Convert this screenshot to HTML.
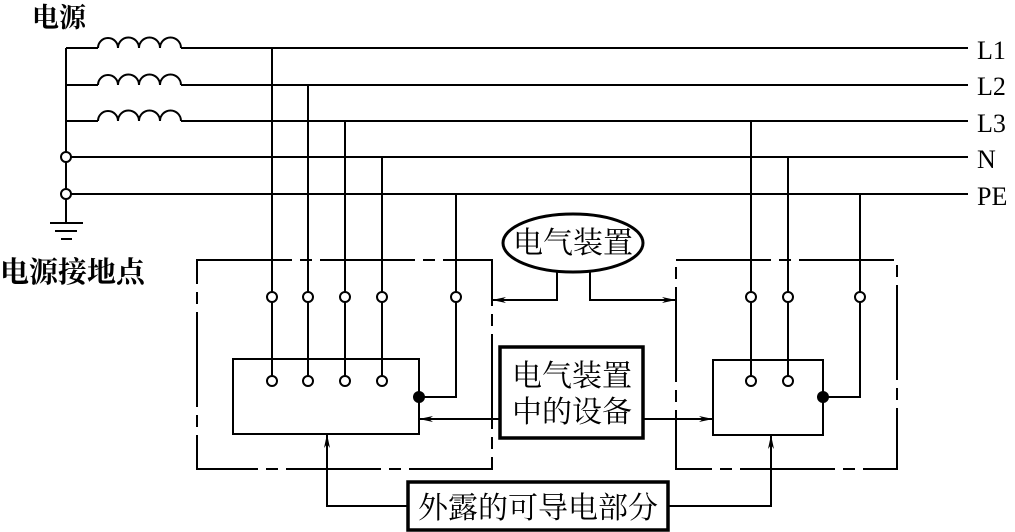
<!DOCTYPE html>
<html><head><meta charset="utf-8"><style>
html,body{margin:0;padding:0;background:#fff;}
svg{display:block;}
text{font-family:"Liberation Serif","Noto Serif CJK SC","Noto Sans CJK SC",serif;fill:#000;}
</style></head><body>
<svg width="1015" height="532" viewBox="0 0 1015 532" xmlns="http://www.w3.org/2000/svg">
<defs>
<marker id="ar" markerWidth="14" markerHeight="8" refX="13" refY="4" orient="auto" markerUnits="userSpaceOnUse">
<path d="M0,1 L14,4 L0,7 L4,4 Z" fill="#000"/>
</marker>
</defs>
<g stroke="#000" stroke-width="2" fill="none">
<path d="M66,48 H98 M181,48 H968"/>
<path d="M66,85 H98 M181,85 H968"/>
<path d="M66,121 H98 M181,121 H968"/>
<path d="M66,157 H968 M66,194 H968"/>
<path d="M98,48 a10,10 0 0 1 20,0 a10,10 0 0 1 21,0 a10,10 0 0 1 21,0 a10,10 0 0 1 21,0"/>
<path d="M98,85 a10,10 0 0 1 20,0 a10,10 0 0 1 21,0 a10,10 0 0 1 21,0 a10,10 0 0 1 21,0"/>
<path d="M98,121 a10,10 0 0 1 20,0 a10,10 0 0 1 21,0 a10,10 0 0 1 21,0 a10,10 0 0 1 21,0"/>
<path d="M66,48 V223"/>
<path d="M50,223 H83 M55,231 H77 M61,239 H72"/>
<path d="M272,48 V381 M308,85 V381 M345,121 V381 M382,157 V381"/>
<path d="M456,194 V397 H419"/>
<path d="M751,121 V381 M788,157 V381"/>
<path d="M860,194 V397 H823"/>
<rect x="197" y="260" width="295" height="209" stroke-dasharray="95 8 12 8"/>
<rect x="676" y="260" width="221" height="209" stroke-dasharray="95 8 12 8"/>
<rect x="233" y="359" width="186" height="75" fill="#fff"/>
<rect x="713" y="360" width="110" height="75" fill="#fff"/>
<path d="M272,359 V381 M308,359 V381 M345,359 V381 M382,359 V381 M751,360 V381 M788,360 V381"/>
<path d="M557,272 V300 H493" marker-end="url(#ar)"/>
<path d="M590,272 V300 H675" marker-end="url(#ar)"/>
<path d="M500,419 H420" marker-end="url(#ar)"/>
<path d="M643,419 H712" marker-end="url(#ar)"/>
<path d="M408,506 H327 V435" marker-end="url(#ar)"/>
<path d="M668,506 H771 V436" marker-end="url(#ar)"/>
</g>
<g stroke="#000" stroke-width="2" fill="#fff">
<circle cx="66" cy="157" r="5"/><circle cx="66" cy="194" r="5"/>
<circle cx="272" cy="297" r="5"/><circle cx="308" cy="297" r="5"/><circle cx="345" cy="297" r="5"/><circle cx="382" cy="297" r="5"/><circle cx="456" cy="297" r="5"/>
<circle cx="272" cy="381" r="5"/><circle cx="308" cy="381" r="5"/><circle cx="345" cy="381" r="5"/><circle cx="382" cy="381" r="5"/>
<circle cx="751" cy="297" r="5"/><circle cx="788" cy="297" r="5"/><circle cx="860" cy="297" r="5"/>
<circle cx="751" cy="381" r="5"/><circle cx="788" cy="381" r="5"/>
</g>
<circle cx="419" cy="397" r="6" fill="#000"/>
<circle cx="823" cy="397" r="6" fill="#000"/>
<ellipse cx="573" cy="243" rx="70" ry="29" fill="#fff" stroke="#000" stroke-width="3"/>
<rect x="500" y="347" width="143" height="91" fill="#fff" stroke="#000" stroke-width="3.5"/>
<rect x="408" y="482" width="260" height="48" fill="#fff" stroke="#000" stroke-width="3.5"/>
<text x="32" y="27" font-size="27" font-weight="bold">电源</text>
<text x="0" y="282" font-size="29" font-weight="bold">电源接地点</text>
<text x="977" y="59" font-size="26">L1</text>
<text x="977" y="95" font-size="26">L2</text>
<text x="977" y="132" font-size="26">L3</text>
<text x="977" y="168" font-size="26">N</text>
<text x="977" y="205" font-size="26">PE</text>
<text x="573" y="253" font-size="30" text-anchor="middle">电气装置</text>
<text x="572" y="386" font-size="30" text-anchor="middle">电气装置</text>
<text x="572" y="422" font-size="30" text-anchor="middle">中的设备</text>
<text x="538" y="518" font-size="30" text-anchor="middle">外露的可导电部分</text>
</svg>
</body></html>
